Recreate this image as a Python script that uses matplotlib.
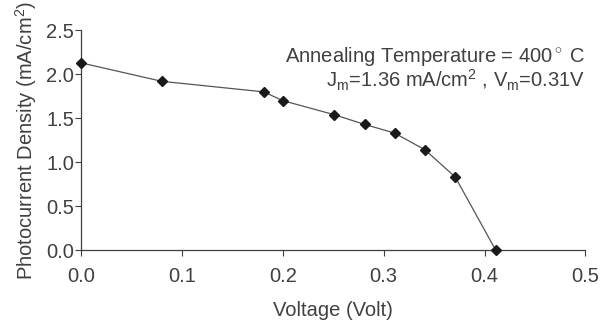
import matplotlib
matplotlib.use("Agg")
import matplotlib.pyplot as plt

# values
voltage = [0.0, 0.080, 0.181, 0.200, 0.251, 0.281, 0.311, 0.341, 0.371, 0.411]
current = [2.13, 1.92, 1.80, 1.70, 1.54, 1.43, 1.33, 1.14, 0.83, 0.0]
x_ticks = [0.0, 0.1, 0.2, 0.3, 0.4, 0.5]
y_ticks = [0.0, 0.5, 1.0, 1.5, 2.0, 2.5]

ink = "#404040"
plt.rcParams["font.family"] = ["Liberation Sans", "DejaVu Sans"]
plt.rcParams["mathtext.fontset"] = "custom"
plt.rcParams["mathtext.rm"] = "Liberation Sans"
plt.rcParams["mathtext.it"] = "Liberation Sans:italic"

fs = 14.5
fig = plt.figure(figsize=(6.01, 3.23), dpi=100)
ax = fig.add_axes([0.135, 0.226, 0.839, 0.68])

ax.plot(voltage, current, color="#555555", lw=0.9, marker="D", ms=5.5,
        mfc="#1a1a1a", mec="#1a1a1a", clip_on=False, zorder=3)

ax.set_xlim(0, 0.5)
ax.set_ylim(0, 2.5)
ax.set_xticks(x_ticks)
ax.set_yticks(y_ticks)
ax.set_xticklabels([f"{v:.1f}" for v in x_ticks])
ax.set_yticklabels([f"{v:.1f}" for v in y_ticks])

for side in ("top", "right"):
    ax.spines[side].set_visible(False)
for side in ("left", "bottom"):
    ax.spines[side].set_color(ink)
    ax.spines[side].set_linewidth(0.9)
ax.tick_params(direction="out", length=4, width=0.8, colors=ink,
               labelsize=fs)
ax.tick_params(axis="x", pad=8)
ax.tick_params(axis="y", pad=1)

ax.set_xlabel("Voltage (Volt)", fontsize=fs, color=ink, labelpad=11)
ax.set_ylabel("Photocurrent Density (mA/cm$^2$)", fontsize=fs, color=ink,
              labelpad=5)

ax.text(1.0, 0.88, "Annealing Temperature = 400$^\\circ$ C",
        transform=ax.transAxes, ha="right", va="center", fontsize=fs,
        color=ink)
ax.text(1.0, 0.77, "J$_\\mathrm{m}$=1.36 mA/cm$^2$ , V$_\\mathrm{m}$=0.31V",
        transform=ax.transAxes, ha="right", va="center", fontsize=fs,
        color=ink)

fig.savefig("out.png", dpi=100)
